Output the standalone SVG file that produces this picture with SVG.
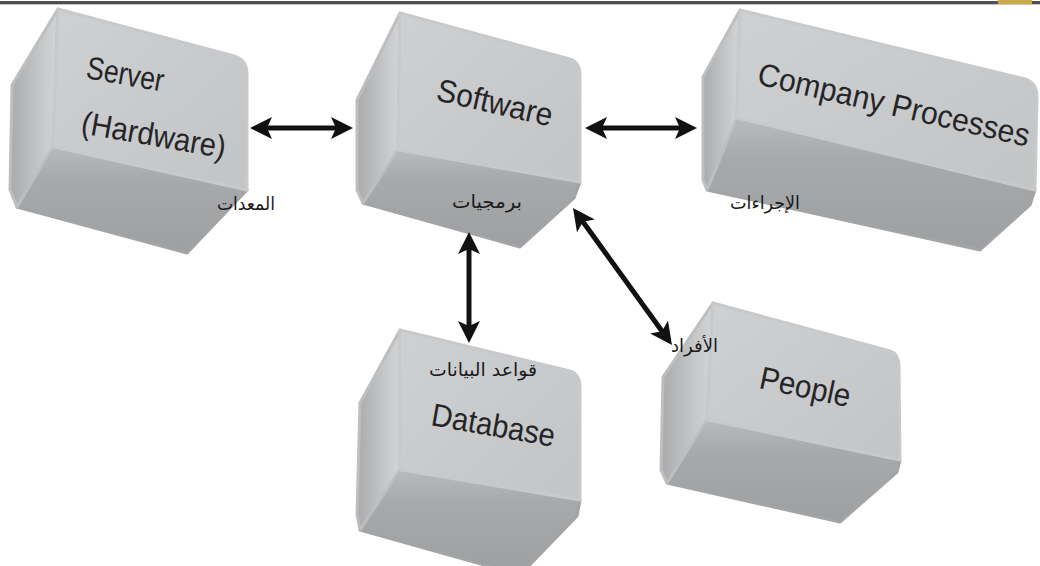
<svg xmlns="http://www.w3.org/2000/svg" width="1040" height="566" viewBox="0 0 1040 566">
  <defs>
    <linearGradient id="gTop" x1="0" y1="0" x2="1" y2="1">
      <stop offset="0" stop-color="#cfd0d2"/>
      <stop offset="1" stop-color="#c3c4c6"/>
    </linearGradient>
    <linearGradient id="gFront" x1="0" y1="0" x2="0" y2="1">
      <stop offset="0" stop-color="#b9babc"/>
      <stop offset="0.3" stop-color="#a8a9ab"/>
      <stop offset="1" stop-color="#9e9fa1"/>
    </linearGradient>
    <linearGradient id="gLeft" x1="0" y1="0" x2="1" y2="0">
      <stop offset="0" stop-color="#a9aaac"/>
      <stop offset="0.6" stop-color="#c4c5c7"/>
      <stop offset="1" stop-color="#d3d4d6"/>
    </linearGradient>
    <marker id="ah" viewBox="0 0 22 22" refX="6" refY="11" markerWidth="22" markerHeight="22" markerUnits="userSpaceOnUse" orient="auto-start-reverse">
      <path d="M0,0 L22,11 L0,22 L5,11 Z" fill="#111"/>
    </marker>
  </defs>
  <style>
    .top{fill:url(#gTop);stroke:#c8c9cb;stroke-width:3;stroke-linejoin:round}
    .front{fill:url(#gFront);stroke:#a3a4a6;stroke-width:3;stroke-linejoin:round}
    .left{fill:url(#gLeft);stroke:#bdbec0;stroke-width:3;stroke-linejoin:round}
    .en{font-family:"Liberation Sans",Arial,sans-serif;font-size:32px;fill:#252527}
    .ar{font-family:"DejaVu Sans","Liberation Sans",sans-serif;font-size:18px;fill:#1a1a1a}
    .conn{stroke:#111;stroke-width:5;fill:none;marker-start:url(#ah);marker-end:url(#ah)}
  </style>
  <rect x="0" y="0" width="1040" height="566" fill="#ffffff"/>
  <rect x="0" y="1" width="1040" height="3" fill="#505052"/>
  <rect x="0" y="4" width="1040" height="1" fill="#c4c4c4"/>
  <rect x="998" y="0" width="34" height="4" fill="#c9a84e"/>

  <g id="server">
    <polygon class="front" points="53,147 247,190 187,253 17,207"/>
    <polygon class="left" points="58,9 53,147 17,207 10,190 12,85"/>
    <path class="top" d="M58,9 L234,56 Q247,60 247,74 L247,190 L53,147 Z"/>
    <text class="en" transform="translate(85,78) rotate(10)" textLength="78" lengthAdjust="spacingAndGlyphs">Server</text>
    <text class="en" transform="translate(80,133) rotate(10)" textLength="146" lengthAdjust="spacingAndGlyphs">(Hardware)</text>
    <text class="ar" x="217" y="210" textLength="58" lengthAdjust="spacingAndGlyphs">المعدات</text>
  </g>

  <g id="software">
    <polygon class="front" points="398,150 580,182 574,198 520,247 363,203"/>
    <polygon class="left" points="400,13 398,150 363,203 357,190 357,100"/>
    <path class="top" d="M400,13 L570,59 Q580,62 580,76 L580,182 L398,150 Z"/>
    <text class="en" transform="translate(435,100) rotate(13)" textLength="118" lengthAdjust="spacingAndGlyphs">Software</text>
    <text class="ar" x="452" y="208" textLength="70" lengthAdjust="spacingAndGlyphs">برمجيات</text>
  </g>

  <g id="company">
    <polygon class="front" points="737,118 1035,190 1030,205 980,250 707,190"/>
    <polygon class="left" points="740,10 737,118 707,190 703,180 703,77"/>
    <path class="top" d="M740,10 L1025,79 Q1037,83 1037,97 L1035,190 L737,118 Z"/>
    <text class="en" style="font-size:29px" transform="translate(756,84) rotate(13) scale(1,1.1)" textLength="278" lengthAdjust="spacingAndGlyphs">Company Processes</text>
    <text class="ar" x="730" y="209" textLength="70" lengthAdjust="spacingAndGlyphs">الإجراءات</text>
  </g>

  <g id="database">
    <polygon class="front" points="400,470 580,500 577,516 520,575 360,530"/>
    <polygon class="left" points="400,330 400,470 360,530 357,515 360,403"/>
    <path class="top" d="M400,330 L570,371 Q580,374 580,388 L580,500 L400,470 Z"/>
    <text class="en" transform="translate(430,425) rotate(10)" textLength="125" lengthAdjust="spacingAndGlyphs">Database</text>
    <text class="ar" x="429" y="376" textLength="108" lengthAdjust="spacingAndGlyphs">قواعد البيانات</text>
  </g>

  <g id="people">
    <polygon class="front" points="707,420 900,460 897,472 840,522 667,483"/>
    <polygon class="left" points="713,303 707,420 667,483 661,470 663,377"/>
    <path class="top" d="M713,303 L890,351 Q899,354 899,366 L900,460 L707,420 Z"/>
    <text class="en" transform="translate(758,388) rotate(12)" textLength="92" lengthAdjust="spacingAndGlyphs">People</text>
    <text class="ar" x="671" y="352" textLength="47" lengthAdjust="spacingAndGlyphs">الأفراد</text>
  </g>

  <g id="connectors">
    <line class="conn" x1="266" y1="128" x2="337" y2="128"/>
    <line class="conn" x1="601" y1="128" x2="681" y2="128"/>
    <line class="conn" x1="469" y1="248" x2="469" y2="327"/>
    <line class="conn" x1="582.4" y1="221" x2="662.6" y2="332"/>
  </g>
</svg>
